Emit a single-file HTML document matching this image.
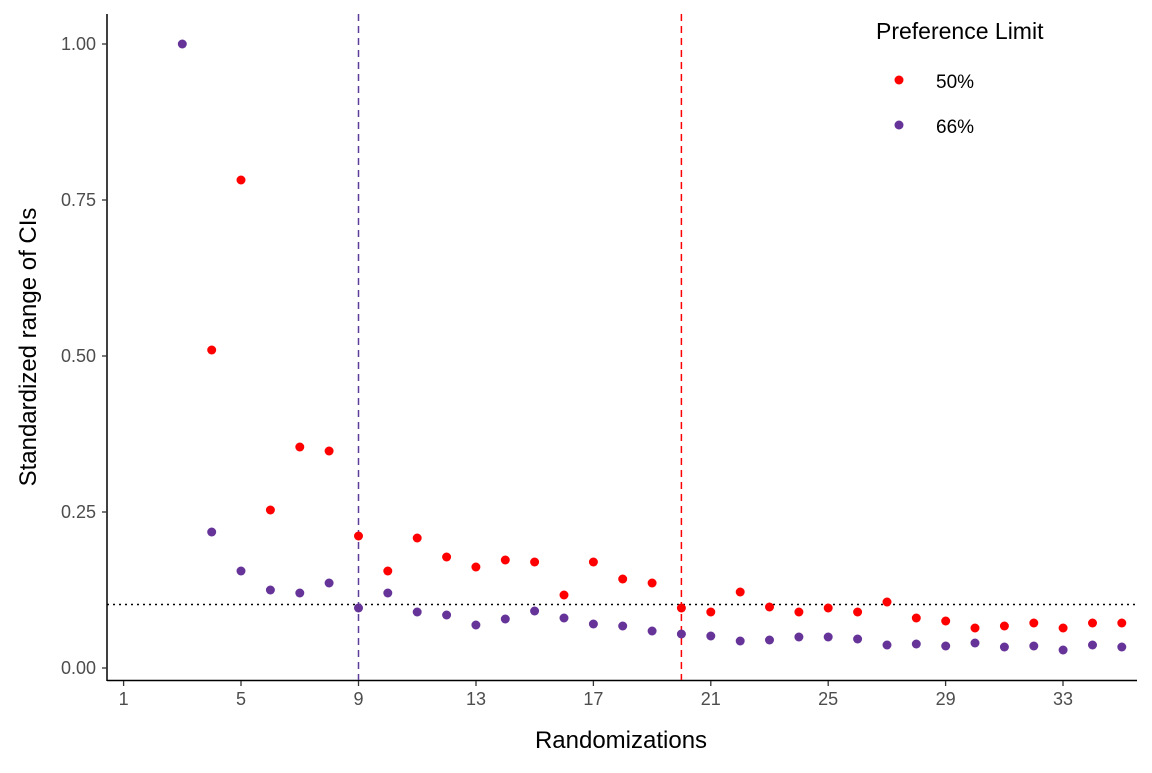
<!DOCTYPE html>
<html><head><meta charset="utf-8"><style>html,body{margin:0;padding:0;background:#fff}</style></head><body>
<svg width="1152" height="768" xmlns="http://www.w3.org/2000/svg" font-family="Liberation Sans, sans-serif">
<rect width="1152" height="768" fill="#fff"/>
<line x1="107" y1="14" x2="107" y2="681" stroke="#000" stroke-width="1.5"/>
<line x1="107" y1="680.5" x2="1137" y2="680.5" stroke="#000" stroke-width="1.5"/>
<g stroke="#333" stroke-width="1.3">
<line x1="102" y1="44" x2="107" y2="44"/><line x1="102" y1="200" x2="107" y2="200"/><line x1="102" y1="356" x2="107" y2="356"/><line x1="102" y1="512" x2="107" y2="512"/><line x1="102" y1="668" x2="107" y2="668"/>
</g>
<g font-size="18" fill="#4d4d4d" text-anchor="end">
<text x="96" y="50">1.00</text><text x="96" y="206">0.75</text><text x="96" y="362">0.50</text><text x="96" y="518">0.25</text><text x="96" y="674">0.00</text>
</g>
<g font-size="18" fill="#4d4d4d" text-anchor="middle">
<text x="123.6" y="705">1</text><text x="241" y="705">5</text><text x="358.5" y="705">9</text><text x="476" y="705">13</text><text x="593.4" y="705">17</text><text x="710.8" y="705">21</text><text x="828.2" y="705">25</text><text x="945.6" y="705">29</text><text x="1063" y="705">33</text>
</g>
<g stroke="#333" stroke-width="1.3">
<line x1="123.6" y1="681" x2="123.6" y2="686"/><line x1="241" y1="681" x2="241" y2="686"/><line x1="358.5" y1="681" x2="358.5" y2="686"/><line x1="476" y1="681" x2="476" y2="686"/><line x1="593.4" y1="681" x2="593.4" y2="686"/><line x1="710.8" y1="681" x2="710.8" y2="686"/><line x1="828.2" y1="681" x2="828.2" y2="686"/><line x1="945.6" y1="681" x2="945.6" y2="686"/><line x1="1063" y1="681" x2="1063" y2="686"/>
</g>
<text x="621" y="748" font-size="24" text-anchor="middle" fill="#000">Randomizations</text>
<text transform="translate(36,347) rotate(-90)" font-size="24" text-anchor="middle" fill="#000">Standardized range of CIs</text>
<line x1="107" y1="604.5" x2="1137" y2="604.5" stroke="#000" stroke-width="1.5" stroke-dasharray="2,4"/>
<line x1="358.5" y1="14" x2="358.5" y2="680" stroke="#5e3c99" stroke-width="1.5" stroke-dasharray="7,5"/>
<line x1="681.4" y1="14" x2="681.4" y2="680" stroke="#ff0000" stroke-width="1.5" stroke-dasharray="7,5"/>
<g fill="#ff0000">
<circle cx="211.7" cy="350" r="4.5"/><circle cx="241.0" cy="180" r="4.5"/><circle cx="270.4" cy="510" r="4.5"/><circle cx="299.8" cy="447" r="4.5"/><circle cx="329.1" cy="451" r="4.5"/><circle cx="358.5" cy="536" r="4.5"/><circle cx="387.8" cy="571" r="4.5"/><circle cx="417.2" cy="538" r="4.5"/><circle cx="446.6" cy="557" r="4.5"/><circle cx="475.9" cy="567" r="4.5"/><circle cx="505.3" cy="560" r="4.5"/><circle cx="534.6" cy="562" r="4.5"/><circle cx="564.0" cy="595" r="4.5"/><circle cx="593.4" cy="562" r="4.5"/><circle cx="622.7" cy="579" r="4.5"/><circle cx="652.1" cy="583" r="4.5"/><circle cx="681.4" cy="608" r="4.5"/><circle cx="710.8" cy="612" r="4.5"/><circle cx="740.2" cy="592" r="4.5"/><circle cx="769.5" cy="607" r="4.5"/><circle cx="798.9" cy="612" r="4.5"/><circle cx="828.2" cy="608" r="4.5"/><circle cx="857.6" cy="612" r="4.5"/><circle cx="887.0" cy="602" r="4.5"/><circle cx="916.3" cy="618" r="4.5"/><circle cx="945.7" cy="621" r="4.5"/><circle cx="975.0" cy="628" r="4.5"/><circle cx="1004.4" cy="626" r="4.5"/><circle cx="1033.8" cy="623" r="4.5"/><circle cx="1063.1" cy="628" r="4.5"/><circle cx="1092.5" cy="623" r="4.5"/><circle cx="1121.8" cy="623" r="4.5"/>
</g>
<g fill="#663399">
<circle cx="182.3" cy="44" r="4.5"/><circle cx="211.7" cy="532" r="4.5"/><circle cx="241.0" cy="571" r="4.5"/><circle cx="270.4" cy="590" r="4.5"/><circle cx="299.8" cy="593" r="4.5"/><circle cx="329.1" cy="583" r="4.5"/><circle cx="358.5" cy="608" r="4.5"/><circle cx="387.8" cy="593" r="4.5"/><circle cx="417.2" cy="612" r="4.5"/><circle cx="446.6" cy="615" r="4.5"/><circle cx="475.9" cy="625" r="4.5"/><circle cx="505.3" cy="619" r="4.5"/><circle cx="534.6" cy="611" r="4.5"/><circle cx="564.0" cy="618" r="4.5"/><circle cx="593.4" cy="624" r="4.5"/><circle cx="622.7" cy="626" r="4.5"/><circle cx="652.1" cy="631" r="4.5"/><circle cx="681.4" cy="634" r="4.5"/><circle cx="710.8" cy="636" r="4.5"/><circle cx="740.2" cy="641" r="4.5"/><circle cx="769.5" cy="640" r="4.5"/><circle cx="798.9" cy="637" r="4.5"/><circle cx="828.2" cy="637" r="4.5"/><circle cx="857.6" cy="639" r="4.5"/><circle cx="887.0" cy="645" r="4.5"/><circle cx="916.3" cy="644" r="4.5"/><circle cx="945.7" cy="646" r="4.5"/><circle cx="975.0" cy="643" r="4.5"/><circle cx="1004.4" cy="647" r="4.5"/><circle cx="1033.8" cy="646" r="4.5"/><circle cx="1063.1" cy="650" r="4.5"/><circle cx="1092.5" cy="645" r="4.5"/><circle cx="1121.8" cy="647" r="4.5"/>
</g>
<text x="876" y="39" font-size="23" fill="#000">Preference Limit</text>
<circle cx="899" cy="80" r="4.5" fill="#ff0000"/><text x="936" y="88" font-size="19">50%</text>
<circle cx="899" cy="125" r="4.5" fill="#663399"/><text x="936" y="133" font-size="19">66%</text>
</svg>
</body></html>
